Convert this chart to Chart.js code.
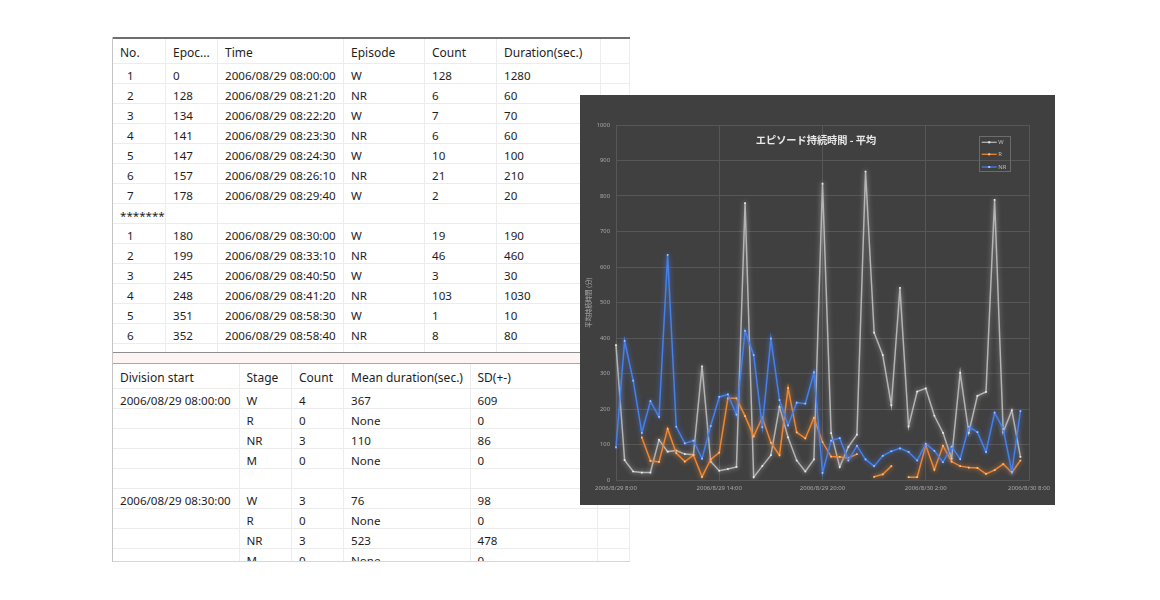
<!DOCTYPE html>
<html>
<head>
<meta charset="utf-8">
<script src="https://cdn.jsdelivr.net/npm/chart.js@4.4.1/dist/chart.umd.min.js"></script>
<style>
  html,body{margin:0;padding:0;background:#fff;width:1160px;height:600px;overflow:hidden;}
  body{position:relative;font-family:"Segoe UI","Noto Sans",sans-serif;color:#1e1e1e;}
  .pane{position:absolute;overflow:hidden;background:#fff;}
  .cell{position:absolute;box-sizing:border-box;border-right:1px solid #ececec;border-bottom:1px solid #ececec;
        padding-left:7px;white-space:nowrap;overflow:hidden;font-size:11.6px;}
  #panel{position:absolute;left:580px;top:95px;width:475px;height:410px;background:#404040;}
  #title{position:absolute;left:696px;top:134px;width:240px;text-align:center;font:bold 10.2px "Noto Sans CJK JP",sans-serif;
         color:#e8e8e8;line-height:12px;white-space:nowrap;}
</style>
</head>
<body>
<div id="leftline" style="position:absolute;left:112px;top:37px;width:1px;height:525px;background:#c4c4c4;"></div>
<div id="upper" class="pane" style="left:113px;top:37px;width:517px;height:315px;"></div>
<div id="split" style="position:absolute;left:113px;top:352px;width:517px;height:12px;box-sizing:border-box;border-top:1.5px solid #8e8e8e;border-bottom:1px solid #a8a8a8;background:#fcf5f4;"></div>
<div id="lower" class="pane" style="left:113px;top:364px;width:517px;height:198px;"></div>
<div id="panel"><canvas id="c" width="475" height="410"></canvas></div>
<div id="title">エピソード持続時間 - 平均</div>
<script>
// ---------- table data ----------
const upperHeaders = ["No.", "Epoc...", "Time", "Episode", "Count", "Duration(sec.)", ""];
const upperRows = [
  ["1","0","2006/08/29 08:00:00","W","128","1280"],
  ["2","128","2006/08/29 08:21:20","NR","6","60"],
  ["3","134","2006/08/29 08:22:20","W","7","70"],
  ["4","141","2006/08/29 08:23:30","NR","6","60"],
  ["5","147","2006/08/29 08:24:30","W","10","100"],
  ["6","157","2006/08/29 08:26:10","NR","21","210"],
  ["7","178","2006/08/29 08:29:40","W","2","20"],
  ["*******","","","","",""],
  ["1","180","2006/08/29 08:30:00","W","19","190"],
  ["2","199","2006/08/29 08:33:10","NR","46","460"],
  ["3","245","2006/08/29 08:40:50","W","3","30"],
  ["4","248","2006/08/29 08:41:20","NR","103","1030"],
  ["5","351","2006/08/29 08:58:30","W","1","10"],
  ["6","352","2006/08/29 08:58:40","NR","8","80"],
  ["*******","","","","",""]
];
const lowerHeaders = ["Division start", "Stage", "Count", "Mean duration(sec.)", "SD(+-)", ""];
const lowerRows = [
  ["2006/08/29 08:00:00","W","4","367","609"],
  ["","R","0","None","0"],
  ["","NR","3","110","86"],
  ["","M","0","None","0"],
  ["","","","",""],
  ["2006/08/29 08:30:00","W","3","76","98"],
  ["","R","0","None","0"],
  ["","NR","3","523","478"],
  ["","M","0","None","0"]
];

// ---------- chart data ----------
const times = ["2006/8/29 8:00","2006/8/29 8:30","2006/8/29 9:00","2006/8/29 9:30","2006/8/29 10:00","2006/8/29 10:30",
  "2006/8/29 11:00","2006/8/29 11:30","2006/8/29 12:00","2006/8/29 12:30","2006/8/29 13:00","2006/8/29 13:30",
  "2006/8/29 14:00","2006/8/29 14:30","2006/8/29 15:00","2006/8/29 15:30","2006/8/29 16:00","2006/8/29 16:30",
  "2006/8/29 17:00","2006/8/29 17:30","2006/8/29 18:00","2006/8/29 18:30","2006/8/29 19:00","2006/8/29 19:30",
  "2006/8/29 20:00","2006/8/29 20:30","2006/8/29 21:00","2006/8/29 21:30","2006/8/29 22:00","2006/8/29 22:30",
  "2006/8/29 23:00","2006/8/29 23:30","2006/8/30 0:00","2006/8/30 0:30","2006/8/30 1:00","2006/8/30 1:30",
  "2006/8/30 2:00","2006/8/30 2:30","2006/8/30 3:00","2006/8/30 3:30","2006/8/30 4:00","2006/8/30 4:30",
  "2006/8/30 5:00","2006/8/30 5:30","2006/8/30 6:00","2006/8/30 6:30","2006/8/30 7:00","2006/8/30 7:30",
  "2006/8/30 8:00"];
const seriesNames = ["W", "R", "NR"];
const seriesW = [380,56,24,21,21,113,80,83,73,71,320,52,26,31,37,780,8,39,70,206,120,55,24,58,835,132,37,93,128,869,
  415,352,211,541,151,249,258,181,133,60,302,133,237,248,789,135,196,65];
const seriesR = [null,null,null,120,54,51,144,76,52,70,9,58,77,230,230,180,123,176,105,70,259,134,117,175,107,66,65,62,73,null,
  9,16,39,null,8,8,97,29,96,52,39,35,34,17,28,45,21,55];
const seriesNR = [92,392,280,133,222,178,634,150,103,111,60,152,234,241,184,420,352,149,398,225,154,218,215,303,20,111,118,55,96,58,
  39,68,81,89,79,55,102,82,50,94,59,150,135,79,190,144,23,194];
const yAxisTitle = "平均持続時間 (分)";

// ---------- build tables ----------
function buildTable(el, cols, headers, rows, headerTop, headerH, rowH, opts) {
  const top0 = headerTop;
  headers.forEach((h, c) => {
    const d = document.createElement('div');
    d.className = 'cell';
    d.style.left = (cols[c] - 113) + 'px';
    d.style.width = (cols[c+1] - cols[c]) + 'px';
    d.style.top = top0 + 'px';
    d.style.height = headerH + 'px';
    d.style.lineHeight = (headerH - 1) + 'px';
    d.style.paddingTop = opts.headPad + 'px';
    d.style.fontSize = '12px';
    d.textContent = h;
    el.appendChild(d);
  });
  rows.forEach((row, r) => {
    for (let c = 0; c < cols.length - 1; c++) {
      const d = document.createElement('div');
      d.className = 'cell';
      d.style.left = (cols[c] - 113) + 'px';
      d.style.width = (cols[c+1] - cols[c]) + 'px';
      d.style.top = (top0 + headerH + r * rowH) + 'px';
      d.style.height = rowH + 'px';
      d.style.lineHeight = (rowH - 1) + 'px';
      d.style.paddingTop = opts.rowPad + 'px';
      const v = row[c] !== undefined ? row[c] : '';
      if (opts.indentFirst && c === 0 && v.indexOf('*') < 0) d.style.paddingLeft = '14px';
      d.textContent = v;
      el.appendChild(d);
    }
  });
}
const upper = document.getElementById('upper');
const topLine = document.createElement('div');
topLine.style.cssText = 'position:absolute;left:0;top:0;width:517px;height:2px;background:#6e6e6e;';
upper.appendChild(topLine);
buildTable(upper, [113,166,218,344,425,497,601,630], upperHeaders, upperRows, 2, 25, 20,
  {indentFirst:true, headPad:2, rowPad:1.5});
buildTable(document.getElementById('lower'), [113,239.5,292,344,470.5,598,630], lowerHeaders, lowerRows, 0, 25, 20,
  {indentFirst:false, headPad:2, rowPad:2});
const lowerBottom = document.createElement('div');
lowerBottom.style.cssText = 'position:absolute;left:0;top:197px;width:517px;height:1px;background:#d6d6d6;';
document.getElementById('lower').appendChild(lowerBottom);

// ---------- chart ----------
const glowPlugin = {
  id: 'glow',
  beforeDatasetDraw(chart, args) {
    const ctx = chart.ctx;
    ctx.save();
    ctx.shadowColor = chart.data.datasets[args.index].glowColor;
    ctx.shadowBlur = 5;
  },
  afterDatasetDraw(chart) { chart.ctx.restore(); }
};
const boxLegend = {
  id: 'boxLegend',
  afterDraw(chart) {
    const ctx = chart.ctx, a = chart.chartArea;
    const x = a.right - 50, y = a.top + 11, w = 31, h = 35;
    ctx.save();
    ctx.strokeStyle = '#6c6c6c';
    ctx.lineWidth = 1;
    ctx.strokeRect(x + 0.5, y + 0.5, w, h);
    const rowsY = [6.3, 18.3, 31];
    chart.data.datasets.forEach((ds, i) => {
      const yy = y + rowsY[i];
      ctx.strokeStyle = ds.borderColor;
      ctx.lineWidth = 1.3;
      ctx.beginPath(); ctx.moveTo(x + 2.7, yy); ctx.lineTo(x + 17.7, yy); ctx.stroke();
      ctx.fillStyle = ds.pointBackgroundColor;
      ctx.fillRect(x + 9.2, yy - 1, 2, 2);
      ctx.fillStyle = '#bdbdbd';
      ctx.font = '5.8px "Noto Sans", sans-serif';
      ctx.textBaseline = 'middle';
      ctx.textAlign = 'left';
      ctx.fillText(ds.label, x + 19.3, yy + 0.3);
    });
    ctx.restore();
  }
};
const gridColor = '#575757';
new Chart(document.getElementById('c'), {
  type: 'line',
  data: {
    labels: times,
    datasets: [
      { label: seriesNames[0], data: seriesW, borderColor: '#b4b4b4', glowColor: 'rgba(215,215,215,0.6)',
        pointBackgroundColor: '#ececec', order: 3 },
      { label: seriesNames[1], data: seriesR, borderColor: '#ee8632', glowColor: 'rgba(255,145,55,0.75)',
        pointBackgroundColor: '#ffc08a', order: 2 },
      { label: seriesNames[2], data: seriesNR, borderColor: '#4680ea', glowColor: 'rgba(75,135,255,0.75)',
        pointBackgroundColor: '#a6c2ff', order: 1 }
    ]
  },
  options: {
    responsive: false,
    animation: false,
    devicePixelRatio: 1,
    layout: { padding: { left: 0, right: 25, top: 30, bottom: 0 } },
    elements: {
      line: { borderWidth: 1.5, tension: 0 },
      point: { radius: 1.2, pointStyle: 'rect', borderWidth: 0, hoverRadius: 1.2 }
    },
    spanGaps: false,
    plugins: { legend: { display: false }, tooltip: { enabled: false }, title: { display: false } },
    scales: {
      x: {
        type: 'category',
        offset: false,
        afterFit: s => { s.height = 25; },
        grid: { drawTicks: false, color: ctx => (ctx.index % 12 === 0 ? gridColor : 'rgba(0,0,0,0)'), lineWidth: 1 },
        border: { color: gridColor },
        ticks: {
          autoSkip: false, maxRotation: 0, minRotation: 0, padding: 5,
          color: '#a8a8a8', font: { size: 6, family: '"Noto Sans", sans-serif' },
          callback: function (v, i) { return i % 12 === 0 ? this.getLabelForValue(v) : ''; }
        }
      },
      y: {
        min: 0, max: 1000,
        afterFit: s => { s.width = 36; },
        grid: { drawTicks: false, color: gridColor, lineWidth: 1 },
        border: { color: gridColor },
        ticks: { stepSize: 100, padding: 6, color: '#a8a8a8', font: { size: 5.8, family: '"Noto Sans", sans-serif' },
                 callback: v => String(v) },
        title: { display: true, text: yAxisTitle, color: '#b0b0b0', padding: { top: 4.5, bottom: 0 },
                 font: { size: 6.4, family: '"Noto Sans CJK JP", sans-serif' } }
      }
    }
  },
  plugins: [glowPlugin, boxLegend]
});
</script>
</body>
</html>
